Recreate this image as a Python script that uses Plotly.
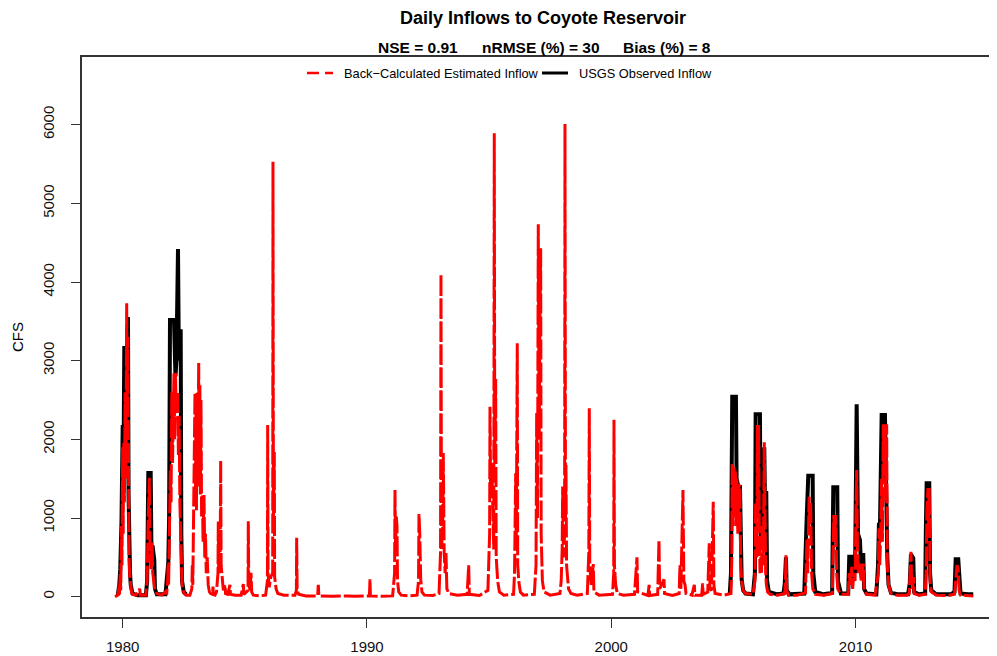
import plotly.graph_objects as go

# ---------------- data ----------------
# Back-calculated estimated inflow (CFS), time as decimal year
est_year = [
    1979.685, 1979.80, 1979.86, 1979.87, 1979.90, 1979.92, 1979.95, 1979.97, 1980.00, 1980.02,
    1980.04, 1980.07, 1980.10, 1980.13, 1980.164, 1980.18, 1980.21, 1980.23, 1980.26, 1980.29,
    1980.32, 1980.36, 1980.40, 1980.55, 1980.70, 1980.72, 1980.95, 1981.00, 1981.04, 1981.09,
    1981.12, 1981.16, 1981.20, 1981.23, 1981.27, 1981.31, 1981.40, 1981.60, 1981.75, 1981.80,
    1981.84, 1981.86, 1981.88, 1981.92, 1981.95, 1981.98, 1982.01, 1982.04, 1982.07, 1982.10,
    1982.13, 1982.16, 1982.19, 1982.22, 1982.25, 1982.28, 1982.31, 1982.34, 1982.37, 1982.40,
    1982.43, 1982.47, 1982.52, 1982.60, 1982.75, 1982.83, 1982.85, 1982.87, 1982.90, 1982.93,
    1982.959, 1982.98, 1983.00, 1983.02, 1983.041, 1983.07, 1983.09, 1983.111, 1983.13, 1983.16,
    1983.18, 1983.205, 1983.23, 1983.26, 1983.29, 1983.328, 1983.36, 1983.39, 1983.42, 1983.46,
    1983.50, 1983.55, 1983.60, 1983.68, 1983.696, 1983.71, 1983.78, 1983.84, 1983.90, 1983.913,
    1983.93, 1983.99, 1984.011, 1984.03, 1984.08, 1984.12, 1984.19, 1984.21, 1984.30, 1984.39,
    1984.41, 1984.60, 1984.85, 1984.937, 1984.96, 1985.13, 1985.141, 1985.16, 1985.22, 1985.252,
    1985.28, 1985.35, 1985.60, 1985.85, 1985.925, 1985.935, 1985.95, 1986.00, 1986.06, 1986.14,
    1986.152, 1986.17, 1986.206, 1986.22, 1986.28, 1986.35, 1986.60, 1987.05, 1987.11, 1987.122,
    1987.14, 1987.20, 1987.50, 1987.98, 1988.007, 1988.03, 1988.60, 1989.20, 1989.50, 1990.10,
    1990.123, 1990.14, 1990.60, 1991.05, 1991.13, 1991.146, 1991.17, 1991.20, 1991.228, 1991.25,
    1991.30, 1991.40, 1991.70, 1992.05, 1992.11, 1992.128, 1992.16, 1992.20, 1992.25, 1992.35,
    1992.70, 1992.95, 1993.01, 1993.029, 1993.05, 1993.10, 1993.123, 1993.16, 1993.20, 1993.234,
    1993.27, 1993.35, 1993.70, 1994.10, 1994.163, 1994.19, 1994.60, 1994.95, 1995.02, 1995.035,
    1995.06, 1995.11, 1995.19, 1995.211, 1995.23, 1995.268, 1995.29, 1995.35, 1995.42, 1995.60,
    1996.00, 1996.04, 1996.07, 1996.087, 1996.11, 1996.152, 1996.17, 1996.22, 1996.28, 1996.40,
    1996.85, 1996.92, 1996.946, 1996.98, 1997.012, 1997.05, 1997.08, 1997.110, 1997.13, 1997.18,
    1997.25, 1997.50, 1997.90, 1997.95, 1997.99, 1998.011, 1998.04, 1998.09, 1998.105, 1998.126,
    1998.146, 1998.17, 1998.20, 1998.25, 1998.35, 1998.60, 1999.02, 1999.08, 1999.100, 1999.12,
    1999.18, 1999.263, 1999.29, 1999.50, 2000.05, 2000.10, 2000.111, 2000.13, 2000.18, 2000.25,
    2000.50, 2000.95, 2001.052, 2001.08, 2001.50, 2001.55, 2001.57, 2001.90, 2001.952, 2001.98,
    2002.157, 2002.18, 2002.50, 2002.78, 2002.812, 2002.85, 2002.935, 2002.97, 2003.02, 2003.06,
    2003.30, 2003.40, 2003.42, 2003.70, 2003.741, 2003.76, 2003.95, 2004.011, 2004.04, 2004.10,
    2004.175, 2004.20, 2004.25, 2004.60, 2004.90, 2004.93, 2004.952, 2004.98, 2005.00, 2005.022,
    2005.05, 2005.08, 2005.11, 2005.14, 2005.18, 2005.22, 2005.267, 2005.30, 2005.34, 2005.40,
    2005.50, 2005.80, 2005.88, 2005.91, 2005.96, 2005.98, 2006.00, 2006.03, 2006.06, 2006.09,
    2006.12, 2006.15, 2006.18, 2006.22, 2006.263, 2006.29, 2006.32, 2006.35, 2006.40, 2006.50,
    2006.80, 2007.10, 2007.130, 2007.151, 2007.18, 2007.25, 2007.60, 2007.95, 2007.98, 2008.01,
    2008.04, 2008.07, 2008.10, 2008.134, 2008.16, 2008.20, 2008.25, 2008.35, 2008.70, 2009.05,
    2009.08, 2009.11, 2009.15, 2009.19, 2009.23, 2009.27, 2009.40, 2009.70, 2009.742, 2009.78,
    2009.84, 2009.88, 2009.934, 2009.98, 2010.01, 2010.045, 2010.08, 2010.12, 2010.18, 2010.22,
    2010.315, 2010.35, 2010.45, 2010.80, 2010.93, 2010.958, 2010.99, 2011.03, 2011.068, 2011.10,
    2011.133, 2011.17, 2011.203, 2011.24, 2011.273, 2011.30, 2011.35, 2011.45, 2011.70, 2012.10,
    2012.20, 2012.24, 2012.267, 2012.30, 2012.33, 2012.37, 2012.40, 2012.60, 2012.85, 2012.89,
    2012.92, 2012.963, 2012.99, 2013.017, 2013.05, 2013.10, 2013.30, 2013.80, 2014.05, 2014.10,
    2014.151, 2014.20, 2014.24, 2014.30, 2014.60, 2014.817,
]
est_cfs = [
    0, 20, 150, 30, 300, 80, 900, 400, 1900, 800,
    1950, 1200, 2600, 1500, 3730, 2400, 3300, 1200, 500, 250,
    120, 60, 30, 20, 100, 20, 20, 200, 900, 1510,
    600, 350, 690, 300, 200, 90, 40, 20, 60, 30,
    200, 420, 150, 800, 1600, 1200, 2600, 1700, 2500, 2843,
    2000, 2843, 2400, 2500, 2600, 1800, 2300, 1200, 800, 300,
    150, 80, 40, 20, 20, 100, 400, 150, 900, 1500,
    2593, 1300, 2400, 1100, 2593, 1400, 2300, 2970, 1700, 2700,
    1300, 2500, 1000, 1300, 700, 1293, 500, 800, 300, 500,
    150, 60, 40, 30, 130, 30, 20, 60, 300, 955,
    300, 500, 1730, 400, 200, 80, 150, 40, 30, 150,
    30, 20, 20, 160, 30, 80, 960, 150, 80, 305,
    60, 20, 10, 20, 200, 2183, 300, 120, 250, 300,
    5530, 900, 1840, 250, 100, 40, 20, 20, 80, 750,
    100, 30, 10, 10, 150, 10, 5, 10, 5, 10,
    220, 10, 5, 10, 300, 1356, 600, 1017, 900, 200,
    60, 20, 10, 20, 200, 1050, 800, 220, 60, 20,
    15, 40, 555, 4100, 600, 900, 1825, 555, 300, 555,
    100, 40, 20, 30, 400, 30, 15, 80, 800, 2415,
    1300, 1700, 600, 5890, 1700, 2767, 500, 200, 60, 20,
    30, 300, 1000, 1570, 600, 3221, 400, 180, 60, 20,
    30, 400, 2335, 1000, 4733, 2000, 3500, 4430, 800, 200,
    60, 20, 40, 200, 600, 1400, 500, 800, 6008, 1000,
    1674, 400, 270, 100, 40, 20, 40, 560, 2395, 400,
    150, 415, 60, 20, 30, 300, 2250, 400, 150, 40,
    20, 30, 500, 60, 15, 150, 15, 30, 720, 100,
    220, 40, 15, 40, 400, 100, 1355, 200, 150, 40,
    20, 150, 20, 20, 170, 30, 60, 680, 100, 80,
    1208, 150, 40, 20, 40, 400, 1700, 900, 1600, 1650,
    1100, 1600, 900, 1500, 800, 1400, 1420, 400, 200, 80,
    40, 30, 200, 1200, 500, 2183, 1000, 2183, 800, 300,
    500, 300, 900, 400, 1962, 600, 300, 150, 60, 30,
    20, 40, 200, 526, 80, 20, 20, 50, 500, 730,
    300, 1000, 1271, 900, 1200, 300, 100, 30, 20, 40,
    500, 1038, 700, 1038, 300, 100, 30, 30, 300, 150,
    380, 100, 300, 200, 900, 1610, 600, 300, 420, 200,
    420, 80, 30, 20, 300, 870, 400, 800, 1500, 700,
    2191, 1600, 2191, 1200, 2191, 400, 150, 40, 20, 20,
    40, 300, 572, 150, 100, 250, 40, 20, 30, 300,
    1100, 1380, 900, 1380, 200, 60, 20, 15, 30, 200,
    400, 350, 80, 20, 15, 10,
]

# USGS observed inflow (CFS); None = no record
obs_year = [
    1979.80, 1979.86, 1979.90, 1979.95, 1980.00, 1980.03, 1980.065, 1980.10, 1980.164, 1980.217,
    1980.24, 1980.270, 1980.30, 1980.33, 1980.40, 1980.60, 1980.95, 1981.00, 1981.048, 1981.146,
    1981.18, 1981.22, 1981.293, 1981.32, 1981.40, 1981.75, 1981.84, 1981.867, 1981.90, 1981.936,
    1982.10, 1982.13, 1982.16, 1982.20, 1982.264, 1982.30, 1982.374, 1982.40, 1982.43, 1982.50,
    1982.60, 1993.0,
    2004.85, 2004.90, 2004.952, 2005.103, 2005.13, 2005.20, 2005.267, 2005.30, 2005.337, 2005.40,
    2005.50, 2005.80, 2005.88, 2005.910, 2006.086, 2006.12, 2006.181, 2006.22, 2006.263, 2006.30,
    2006.344, 2006.38, 2006.45, 2006.80, 2007.05, 2007.10, 2007.151, 2007.18, 2007.30, 2007.90,
    2007.970, 2008.00, 2008.064, 2008.244, 2008.27, 2008.35, 2008.70, 2009.04, 2009.088, 2009.251,
    2009.28, 2009.40, 2009.70, 2009.742, 2009.840, 2009.88, 2009.934, 2009.98, 2010.045, 2010.10,
    2010.180, 2010.22, 2010.315, 2010.35, 2010.45, 2010.85, 2010.92, 2010.958, 2011.00, 2011.068,
    2011.203, 2011.24, 2011.30, 2011.35, 2011.45, 2011.75, 2012.15, 2012.22, 2012.267, 2012.362,
    2012.40, 2012.60, 2012.85, 2012.88, 2012.910, 2013.017, 2013.05, 2013.10, 2013.30, 2013.90,
    2014.05, 2014.098, 2014.204, 2014.273, 2014.30, 2014.60, 2014.817,
]
obs_cfs = [
    20, 150, 350, 950, 2183, 1500, 3187, 2400, 3000, 3555,
    1300, 593, 300, 150, 40, 20, 20, 200, 1572, 1572,
    500, 650, 467, 100, 30, 30, 300, 440, 1000, 3516,
    3516, 3000, 2800, 3000, 4420, 3000, 3400, 800, 200, 60,
    30, None,
    30, 300, 2542, 2542, 1500, 1400, 1420, 400, 220, 80,
    40, 30, 300, 2318, 2318, 600, 1788, 800, 1900, 1000,
    1343, 200, 60, 30, 40, 160, 500, 80, 30, 40,
    911, 1000, 1538, 1538, 300, 60, 30, 50, 1390, 1390,
    200, 40, 40, 508, 508, 200, 380, 300, 2445, 800,
    720, 400, 555, 100, 40, 30, 400, 941, 900, 2310,
    2310, 1500, 500, 150, 50, 30, 30, 175, 540, 490,
    60, 30, 40, 900, 1441, 1441, 300, 80, 30, 30,
    60, 475, 475, 150, 40, 30, 30,
]

x_ticks = [1980, 1990, 2000, 2010]
x_tick_labels = ["1980", "1990", "2000", "2010"]
y_ticks = [0, 1000, 2000, 3000, 4000, 5000, 6000]
y_tick_labels = ["0", "1000", "2000", "3000", "4000", "5000", "6000"]

title_text = "Daily Inflows to Coyote Reservoir"
stats_text = ["NSE = 0.91", "nRMSE (%) = 30", "Bias (%) = 8"]
legend_labels = ["Back\u2212Calculated Estimated Inflow", "USGS Observed Inflow"]
y_title = "CFS"

# ---------------- layout helpers (page pixel -> paper) ----------------
OFF = 8                      # browser body margin
W, H = 997 - OFF, 656 - OFF  # figure size
PL, PR, PT, PB = 82, 997, 57, 617   # plot box in page pixels
L, R, T, B = PL - OFF, PR - OFF, PT - OFF, PB - OFF


def px(x):
    return (x - PL) / (PR - PL)


def py(y):
    return (PB - y) / (PB - PT)


FONT = "Liberation Sans, Arial, Helvetica, sans-serif"

fig = go.Figure()
fig.add_trace(go.Scatter(
    x=obs_year, y=obs_cfs, mode="lines", connectgaps=False,
    line=dict(color="#000000", width=4), name=legend_labels[1], showlegend=False,
))
fig.add_trace(go.Scatter(
    x=est_year, y=est_cfs, mode="lines",
    line=dict(color="#FF0000", width=3, dash="20px,3px"), name=legend_labels[0],
    showlegend=False,
))

annotations = [
    dict(text="<b>%s</b>" % title_text, x=px(543), y=py(18), xref="paper", yref="paper",
         showarrow=False, xanchor="center", yanchor="middle",
         font=dict(family=FONT, size=18, color="#000")),
    dict(text="<b>%s</b>" % stats_text[0], x=px(417.5), y=py(47), xref="paper", yref="paper",
         showarrow=False, xanchor="center", yanchor="middle",
         font=dict(family=FONT, size=15.5, color="#000")),
    dict(text="<b>%s</b>" % stats_text[1], x=px(540.5), y=py(47), xref="paper", yref="paper",
         showarrow=False, xanchor="center", yanchor="middle",
         font=dict(family=FONT, size=15.5, color="#000")),
    dict(text="<b>%s</b>" % stats_text[2], x=px(666.5), y=py(47), xref="paper", yref="paper",
         showarrow=False, xanchor="center", yanchor="middle",
         font=dict(family=FONT, size=15.5, color="#000")),
    dict(text=legend_labels[0], x=px(342), y=py(73), xref="paper", yref="paper",
         showarrow=False, xanchor="left", yanchor="middle",
         font=dict(family=FONT, size=12.8, color="#000")),
    dict(text=legend_labels[1], x=px(577), y=py(73), xref="paper", yref="paper",
         showarrow=False, xanchor="left", yanchor="middle",
         font=dict(family=FONT, size=12.8, color="#000")),
    dict(text=y_title, x=px(17), y=py(337), xref="paper", yref="paper",
         showarrow=False, xanchor="center", yanchor="middle", textangle=-90,
         font=dict(family=FONT, size=15, color="#000")),
]

shapes = [
    dict(type="line", xref="paper", yref="paper", x0=px(307), x1=px(333), y0=py(73), y1=py(73),
         line=dict(color="#FF0000", width=2.5, dash="12px,6px")),
    dict(type="line", xref="paper", yref="paper", x0=px(542), x1=px(568), y0=py(73), y1=py(73),
         line=dict(color="#000000", width=3)),
]

fig.update_layout(
    width=W, height=H,
    margin=dict(l=L, r=W - R, t=T, b=H - B, autoexpand=False),
    paper_bgcolor="white", plot_bgcolor="white",
    font=dict(family=FONT, color="#000"),
    showlegend=False,
    annotations=annotations,
    shapes=shapes,
    xaxis=dict(
        range=[1978.334, 2015.79], tickmode="array", tickvals=x_ticks, ticktext=x_tick_labels,
        showgrid=False, zeroline=False, showline=True, linecolor="#333", linewidth=1.5,
        mirror=True, ticks="outside", ticklen=9, tickwidth=1.2, tickcolor="#333",
        tickfont=dict(family=FONT, size=15, color="#111"), ticklabelstandoff=6,
    ),
    yaxis=dict(
        range=[-258, 6860], tickmode="array", tickvals=y_ticks, ticktext=y_tick_labels,
        showgrid=False, zeroline=False, showline=True, linecolor="#333", linewidth=1.5,
        mirror=False, ticks="outside", ticklen=9, tickwidth=1.2, tickcolor="#333",
        tickangle=-90, tickfont=dict(family=FONT, size=15, color="#111"), ticklabelstandoff=11,
    ),
)

fig.write_html("out.html")
